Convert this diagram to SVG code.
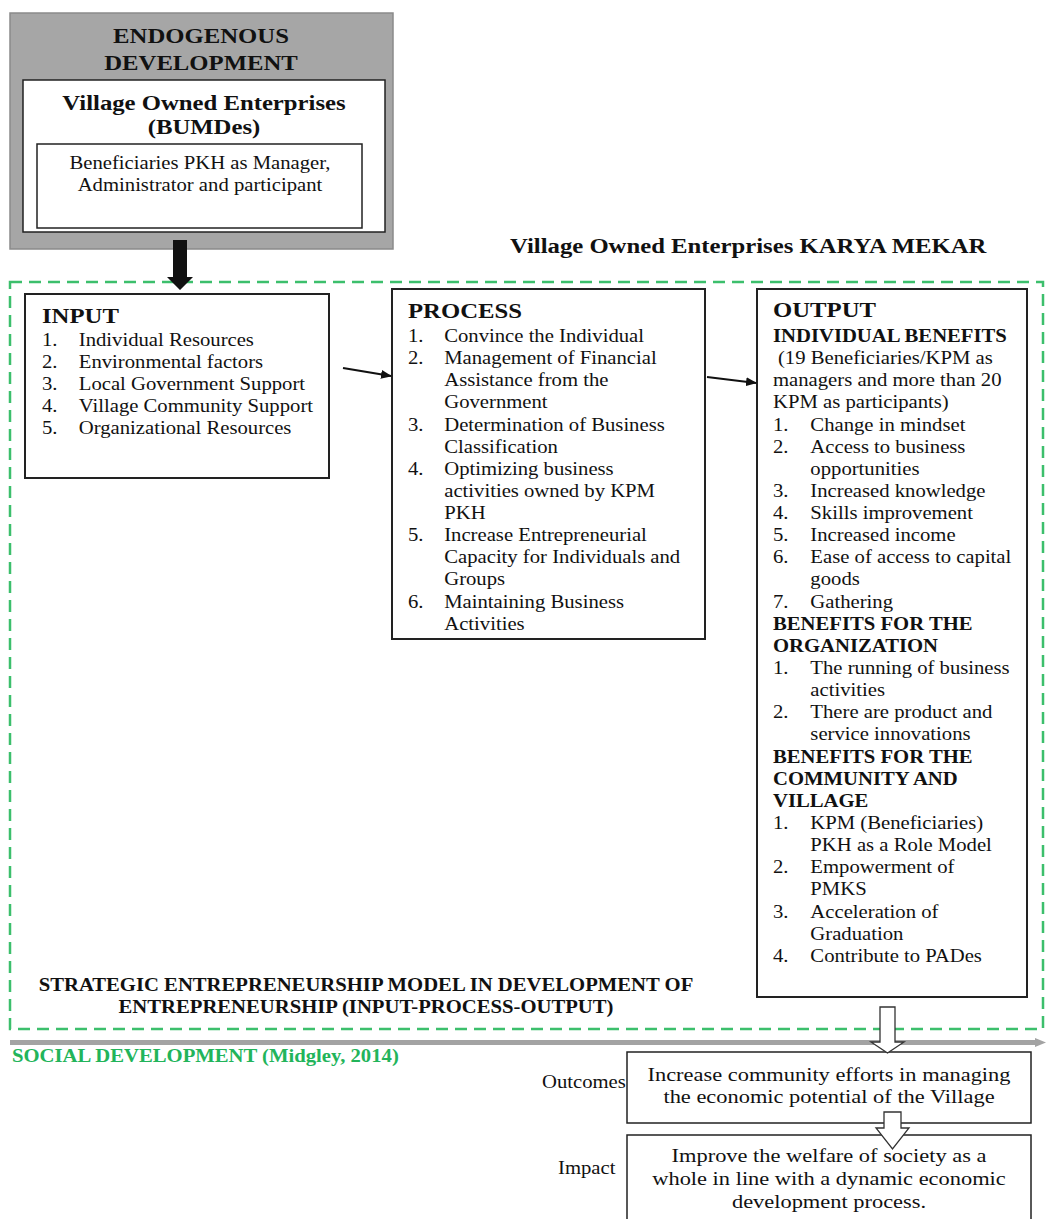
<svg xmlns="http://www.w3.org/2000/svg" width="1046" height="1219" viewBox="0 0 1046 1219">
<defs>
<style>
.t{font-family:"Liberation Serif","Times New Roman",serif;fill:#111}
.r{font-size:18px}
.b{font-size:18px;font-weight:bold}
.h{font-size:21.5px;font-weight:bold}
.o{font-size:19.5px}
.box{fill:#fff;stroke:#222;stroke-width:2}
.thin{fill:#fff;stroke:#222;stroke-width:1.5}
.hollow{fill:#fff;stroke:#333;stroke-width:1.3}
.conn{stroke:#111;stroke-width:2;fill:none}
</style>
<marker id="ah" markerUnits="userSpaceOnUse" markerWidth="11" markerHeight="9" refX="10" refY="4.5" orient="auto">
<path d="M0,0 L11,4.5 L0,9 z" fill="#111"/>
</marker>
</defs>
<rect width="1046" height="1219" fill="#fff"/>

<g id="endogenous">
<rect x="10" y="13" width="383" height="236" fill="#a6a6a6" stroke="#8a8a8a" stroke-width="1.5"/>
<g transform="translate(201 0) scale(1.15 1)">
<text class="t h" x="0" y="43" text-anchor="middle">ENDOGENOUS</text>
<text class="t h" x="0" y="70" text-anchor="middle">DEVELOPMENT</text>
</g>
<rect x="23" y="80" width="362" height="152" class="thin"/>
<g transform="translate(204 0) scale(1.15 1)">
<text class="t h" x="0" y="110" text-anchor="middle">Village Owned Enterprises</text>
<text class="t h" x="0" y="134" text-anchor="middle">(BUMDes)</text>
</g>
<rect x="37" y="144" width="325" height="84" class="thin"/>
<g transform="translate(200 0) scale(1.15 1)">
<text class="t r" x="0" y="169" text-anchor="middle">Beneficiaries PKH as Manager,</text>
<text class="t r" x="0" y="191" text-anchor="middle">Administrator and participant</text>
</g>
</g>

<g id="karya-mekar">
<rect x="10" y="282" width="1033" height="747" fill="none" stroke="#3cbf6c" stroke-width="2.5" stroke-dasharray="12 7"/>
<g transform="translate(510 0) scale(1.15 1)">
<text class="t h" x="0" y="253">Village Owned Enterprises KARYA MEKAR</text>
</g>
<g transform="translate(366 0) scale(1.15 1)">
<text class="t b" x="0" y="991" text-anchor="middle">STRATEGIC ENTREPRENEURSHIP MODEL IN DEVELOPMENT OF</text>
<text class="t b" x="0" y="1013" text-anchor="middle">ENTREPRENEURSHIP (INPUT-PROCESS-OUTPUT)</text>
</g>
</g>

<g id="input">
<rect x="25" y="294" width="304" height="184" class="box"/>
<g transform="translate(42 0) scale(1.15 1)">
<text class="t h" x="0" y="323">INPUT</text>
<text class="t r" x="0" y="346">1.</text><text class="t r" x="32" y="346">Individual Resources</text>
<text class="t r" x="0" y="368">2.</text><text class="t r" x="32" y="368">Environmental factors</text>
<text class="t r" x="0" y="390">3.</text><text class="t r" x="32" y="390">Local Government Support</text>
<text class="t r" x="0" y="412">4.</text><text class="t r" x="32" y="412">Village Community Support</text>
<text class="t r" x="0" y="434">5.</text><text class="t r" x="32" y="434">Organizational Resources</text>
</g>
</g>

<g id="process">
<rect x="392" y="289" width="313" height="350" class="box"/>
<g transform="translate(408 0) scale(1.15 1)">
<text class="t h" x="0" y="318">PROCESS</text>
<text class="t r" x="0" y="342">1.</text><text class="t r" x="31.5" y="342">Convince the Individual</text>
<text class="t r" x="0" y="364.1">2.</text><text class="t r" x="31.5" y="364.1">Management of Financial</text>
<text class="t r" x="31.5" y="386.3">Assistance from the</text>
<text class="t r" x="31.5" y="408.4">Government</text>
<text class="t r" x="0" y="430.6">3.</text><text class="t r" x="31.5" y="430.6">Determination of Business</text>
<text class="t r" x="31.5" y="452.7">Classification</text>
<text class="t r" x="0" y="474.8">4.</text><text class="t r" x="31.5" y="474.8">Optimizing business</text>
<text class="t r" x="31.5" y="497">activities owned by KPM</text>
<text class="t r" x="31.5" y="519.1">PKH</text>
<text class="t r" x="0" y="541.3">5.</text><text class="t r" x="31.5" y="541.3">Increase Entrepreneurial</text>
<text class="t r" x="31.5" y="563.4">Capacity for Individuals and</text>
<text class="t r" x="31.5" y="585.5">Groups</text>
<text class="t r" x="0" y="607.7">6.</text><text class="t r" x="31.5" y="607.7">Maintaining Business</text>
<text class="t r" x="31.5" y="629.8">Activities</text>
</g>
</g>

<g id="output">
<rect x="757" y="289" width="270" height="708" class="box"/>
<g transform="translate(773 0) scale(1.15 1)">
<text class="t h" x="0" y="317">OUTPUT</text>
<text class="t b" x="0" y="342">INDIVIDUAL BENEFITS</text>
<text class="t r" x="4.3" y="364.1">(19 Beneficiaries/KPM as</text>
<text class="t r" x="0" y="386.3">managers and more than 20</text>
<text class="t r" x="0" y="408.4">KPM as participants)</text>
<text class="t r" x="0" y="430.6">1.</text><text class="t r" x="32.5" y="430.6">Change in mindset</text>
<text class="t r" x="0" y="452.7">2.</text><text class="t r" x="32.5" y="452.7">Access to business</text>
<text class="t r" x="32.5" y="474.8">opportunities</text>
<text class="t r" x="0" y="497">3.</text><text class="t r" x="32.5" y="497">Increased knowledge</text>
<text class="t r" x="0" y="519.1">4.</text><text class="t r" x="32.5" y="519.1">Skills improvement</text>
<text class="t r" x="0" y="541.3">5.</text><text class="t r" x="32.5" y="541.3">Increased income</text>
<text class="t r" x="0" y="563.4">6.</text><text class="t r" x="32.5" y="563.4">Ease of access to capital</text>
<text class="t r" x="32.5" y="585.5">goods</text>
<text class="t r" x="0" y="607.7">7.</text><text class="t r" x="32.5" y="607.7">Gathering</text>
<text class="t b" x="0" y="629.8">BENEFITS FOR THE</text>
<text class="t b" x="0" y="652">ORGANIZATION</text>
<text class="t r" x="0" y="674.1">1.</text><text class="t r" x="32.5" y="674.1">The running of business</text>
<text class="t r" x="32.5" y="696.2">activities</text>
<text class="t r" x="0" y="718.4">2.</text><text class="t r" x="32.5" y="718.4">There are product and</text>
<text class="t r" x="32.5" y="740.5">service innovations</text>
<text class="t b" x="0" y="762.7">BENEFITS FOR THE</text>
<text class="t b" x="0" y="784.8">COMMUNITY AND</text>
<text class="t b" x="0" y="806.9">VILLAGE</text>
<text class="t r" x="0" y="829.1">1.</text><text class="t r" x="32.5" y="829.1">KPM (Beneficiaries)</text>
<text class="t r" x="32.5" y="851.2">PKH as a Role Model</text>
<text class="t r" x="0" y="873.4">2.</text><text class="t r" x="32.5" y="873.4">Empowerment of</text>
<text class="t r" x="32.5" y="895.5">PMKS</text>
<text class="t r" x="0" y="917.6">3.</text><text class="t r" x="32.5" y="917.6">Acceleration of</text>
<text class="t r" x="32.5" y="939.8">Graduation</text>
<text class="t r" x="0" y="961.9">4.</text><text class="t r" x="32.5" y="961.9">Contribute to PADes</text>
</g>
</g>

<g id="social-development">
<line x1="10" y1="1042.5" x2="1038" y2="1042.5" stroke="#a3a3a3" stroke-width="5"/>
<polygon points="1035,1038 1046,1042.5 1035,1047" fill="#a3a3a3"/>
<g transform="translate(12 0) scale(1.15 1)">
<text class="t b" x="0" y="1062" style="fill:#22b45a">SOCIAL DEVELOPMENT (Midgley, 2014)</text>
</g>
</g>

<g id="outcomes">
<g transform="translate(542 0) scale(1.15 1)">
<text class="t r" x="0" y="1088">Outcomes</text>
</g>
<rect x="627" y="1052" width="404" height="71" class="thin"/>
<g transform="translate(829 0) scale(1.15 1)">
<text class="t o" x="0" y="1081" text-anchor="middle">Increase community efforts in managing</text>
<text class="t o" x="0" y="1103" text-anchor="middle">the economic potential of the Village</text>
</g>
</g>

<g id="impact">
<g transform="translate(558 0) scale(1.15 1)">
<text class="t r" x="0" y="1174">Impact</text>
</g>
<rect x="627" y="1135" width="404" height="100" class="thin"/>
<g transform="translate(829 0) scale(1.15 1)">
<text class="t o" x="0" y="1162" text-anchor="middle">Improve the welfare of society as a</text>
<text class="t o" x="0" y="1185" text-anchor="middle">whole in line with a dynamic economic</text>
<text class="t o" x="0" y="1208" text-anchor="middle">development process.</text>
</g>
</g>

<g id="connectors">
<polygon points="173,240 187,240 187,277 193,277 180,290 167,277 173,277" fill="#111"/>
<line x1="343" y1="368" x2="391" y2="376" class="conn" marker-end="url(#ah)"/>
<line x1="707" y1="377" x2="756" y2="383" class="conn" marker-end="url(#ah)"/>
<polygon points="880,1007 895,1007 895,1042 904,1042 887.5,1053 871,1042 880,1042" class="hollow"/>
<polygon points="884,1112 901,1112 901,1128 909,1128 892.5,1149 876,1128 884,1128" class="hollow"/>
</g>
</svg>
